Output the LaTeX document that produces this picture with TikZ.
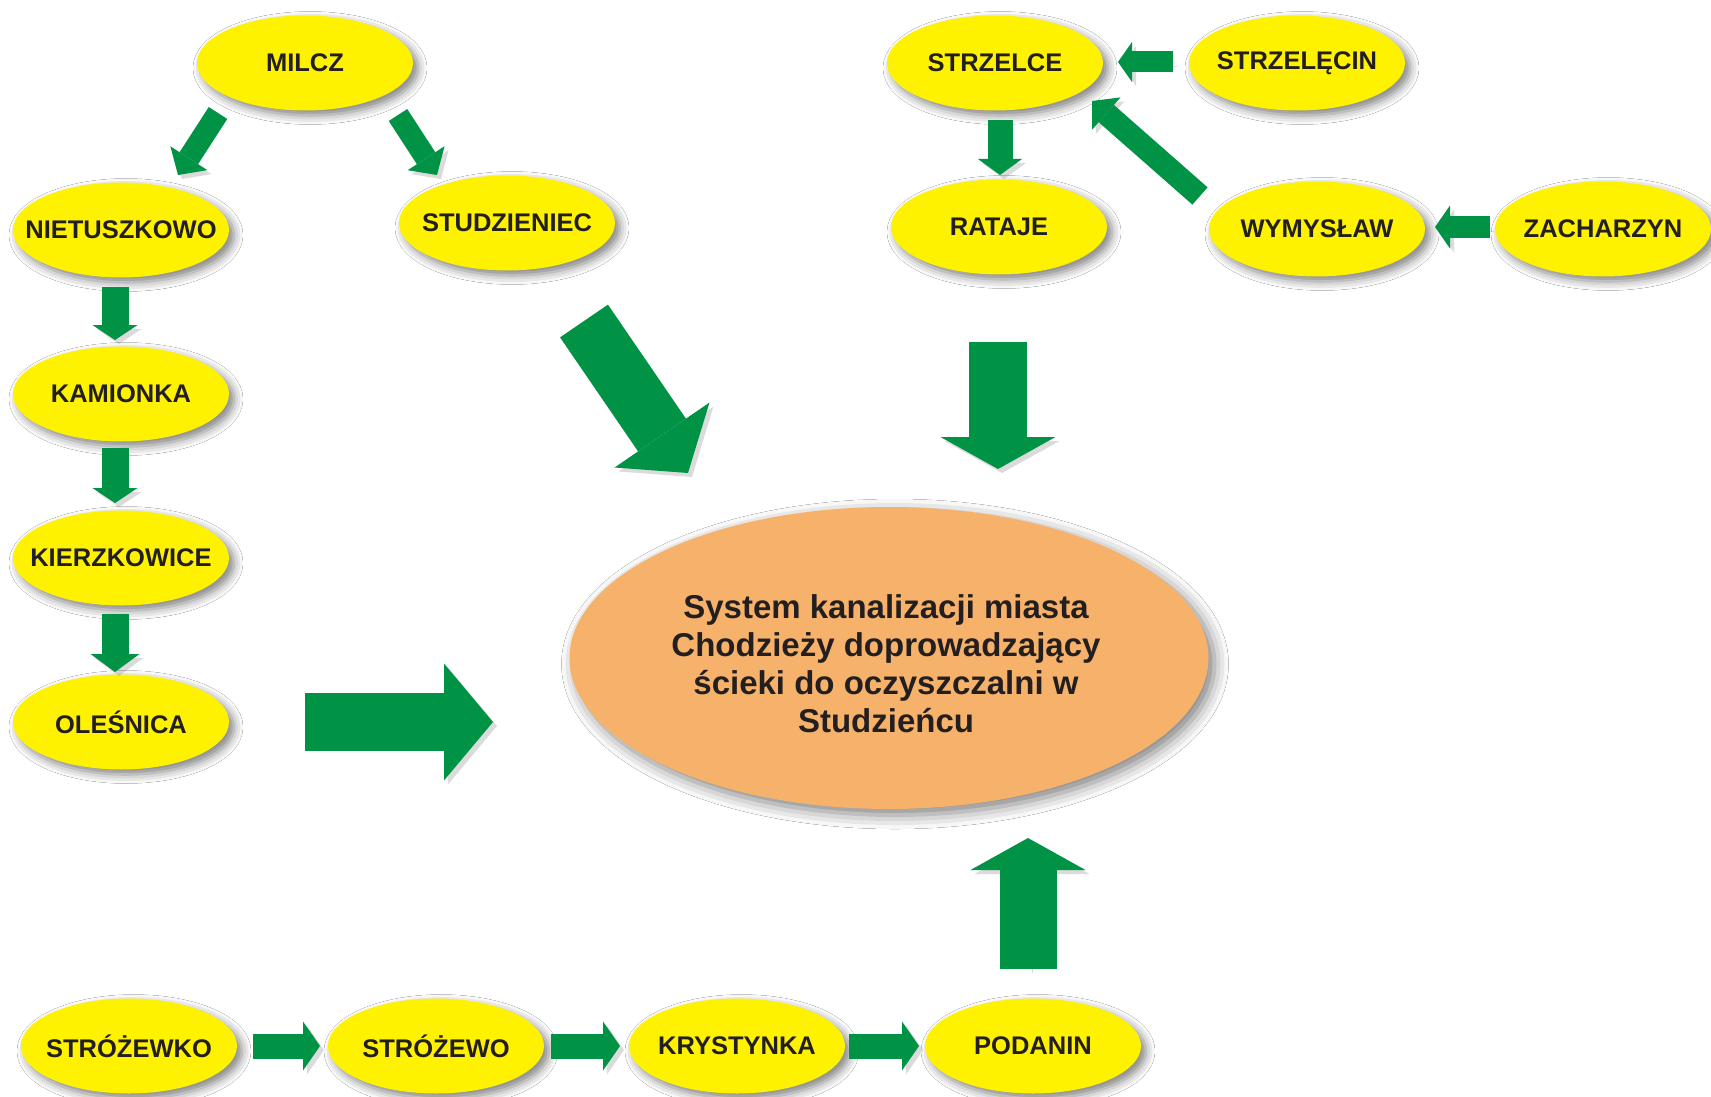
\documentclass[tikz,border=0pt]{standalone}
\usepackage{fontspec}
\setmainfont{Liberation Sans}
\usetikzlibrary{arrows.meta,shapes.geometric,shadows.blur}
\definecolor{townyellow}{RGB}{255,242,0}
\definecolor{huborange}{RGB}{246,178,107}
\definecolor{flowgreen}{RGB}{0,146,69}
\definecolor{txtdark}{RGB}{35,31,32}
\begin{document}
\begin{tikzpicture}[x=1pt,y=-1pt,
  town/.style={ellipse, fill=townyellow, minimum width=216pt, minimum height=95pt,
    inner xsep=-70pt, inner ysep=0pt, text=txtdark, font=\bfseries\fontsize{25.5}{30}\selectfont,
    blur shadow={shadow xshift=5pt, shadow yshift=-5pt, shadow blur radius=9pt, shadow opacity=50}},
  hub/.style={ellipse, fill=huborange, minimum width=639pt, minimum height=302pt,
    inner sep=0pt,
    blur shadow={shadow xshift=6pt, shadow yshift=-6pt, shadow blur radius=14pt, shadow opacity=50}},
  hubtext/.style={align=center, inner sep=0pt, text=txtdark, font=\bfseries\fontsize{33}{38}\selectfont},
  flow/.style n args={3}{draw=flowgreen, line width=#1pt,
    -{Triangle[width=#2pt,length=#3pt,line width=0pt]},
    preaction={draw=black!55, opacity=0.25, transform canvas={shift={(4pt,-4pt)}}}}
]
\fill[white] (0,0) rectangle (1711,1097);
\useasboundingbox (0,0) rectangle (1711,1097);

% towns
\node[town] (milcz) at (305,63) {MILCZ};
\node[town] (niet) at (121,230) {NIETUSZKOWO};
\node[town] (stud) at (507,223) {STUDZIENIEC};
\node[town] (kam) at (121,394) {KAMIONKA};
\node[town] (kierz) at (121,558) {KIERZKOWICE};
\node[town] (oles) at (121,722) {OLEŚNICA};
\node[town] (strz) at (995,63) {STRZELCE};
\node[town] (strzc) at (1297,63) {STRZELĘCIN};
\node[town] (rataje) at (999,227) {RATAJE};
\node[town] (wym) at (1317,229) {WYMYSŁAW};
\node[town] (zach) at (1603,229) {ZACHARZYN};
\node[town] (strozk) at (129,1046) {STRÓŻEWKO};
\node[town] (stroz) at (436,1046) {STRÓŻEWO};
\node[town] (kryst) at (737,1046) {KRYSTYNKA};
\node[town] (podan) at (1033,1046) {PODANIN};

% hub
\node[hub] (sys) at (889,658) {};
\node[hubtext] (systext) at (886,664) {System kanalizacji miasta\\Chodzieży doprowadzający\\ścieki do oczyszczalni w\\Studzieńcu};

% arrow ends
\coordinate (a1s) at (218,113); \coordinate (a1e) at (178,175);
\coordinate (a2s) at (398,115); \coordinate (a2e) at (437,175);
\coordinate (a3s) at (115,287); \coordinate (a3e) at (115,340);
\coordinate (a4s) at (115,448); \coordinate (a4e) at (115,503);
\coordinate (a5s) at (115,614); \coordinate (a5e) at (115,672);
\coordinate (a6s) at (1173,62); \coordinate (a6e) at (1118,62);
\coordinate (a7s) at (1000,120); \coordinate (a7e) at (1000,175);
\coordinate (a8s) at (1200,196); \coordinate (a8e) at (1092,101);
\coordinate (a9s) at (1490,227); \coordinate (a9e) at (1435,227);
\coordinate (a10s) at (253,1046); \coordinate (a10e) at (320,1046);
\coordinate (a11s) at (551,1046); \coordinate (a11e) at (620,1046);
\coordinate (a12s) at (849,1046); \coordinate (a12e) at (919,1046);
\coordinate (b1s) at (305,722); \coordinate (b1e) at (493,722);
\coordinate (b2s) at (584,321); \coordinate (b2e) at (688,473);
\coordinate (b3s) at (998,342); \coordinate (b3e) at (998,469);
\coordinate (b4s) at (1028,969); \coordinate (b4e) at (1028,838);

% small arrows
\draw[flow={22}{44}{20}] (a1s) -- (a1e);
\draw[flow={22}{44}{20}] (a2s) -- (a2e);
\draw[flow={27}{45}{15}] (a3s) -- (a3e);
\draw[flow={27}{45}{15}] (a4s) -- (a4e);
\draw[flow={27}{49}{18}] (a5s) -- (a5e);
\draw[flow={21}{40}{14}] (a6s) -- (a6e);
\draw[flow={25}{44}{16}] (a7s) -- (a7e);
\draw[flow={23}{43}{19}] (a8s) -- (a8e);
\draw[flow={22}{43}{15}] (a9s) -- (a9e);
\draw[flow={25}{49}{17}] (a10s) -- (a10e);
\draw[flow={25}{49}{17}] (a11s) -- (a11e);
\draw[flow={25}{49}{17}] (a12s) -- (a12e);

% big arrows
\draw[flow={58}{117}{49}] (b1s) -- (b1e);
\draw[flow={58}{115}{46}] (b2s) -- (b2e);
\draw[flow={58}{115}{32}] (b3s) -- (b3e);
\draw[flow={57}{115}{32}] (b4s) -- (b4e);
\end{tikzpicture}
\end{document}
